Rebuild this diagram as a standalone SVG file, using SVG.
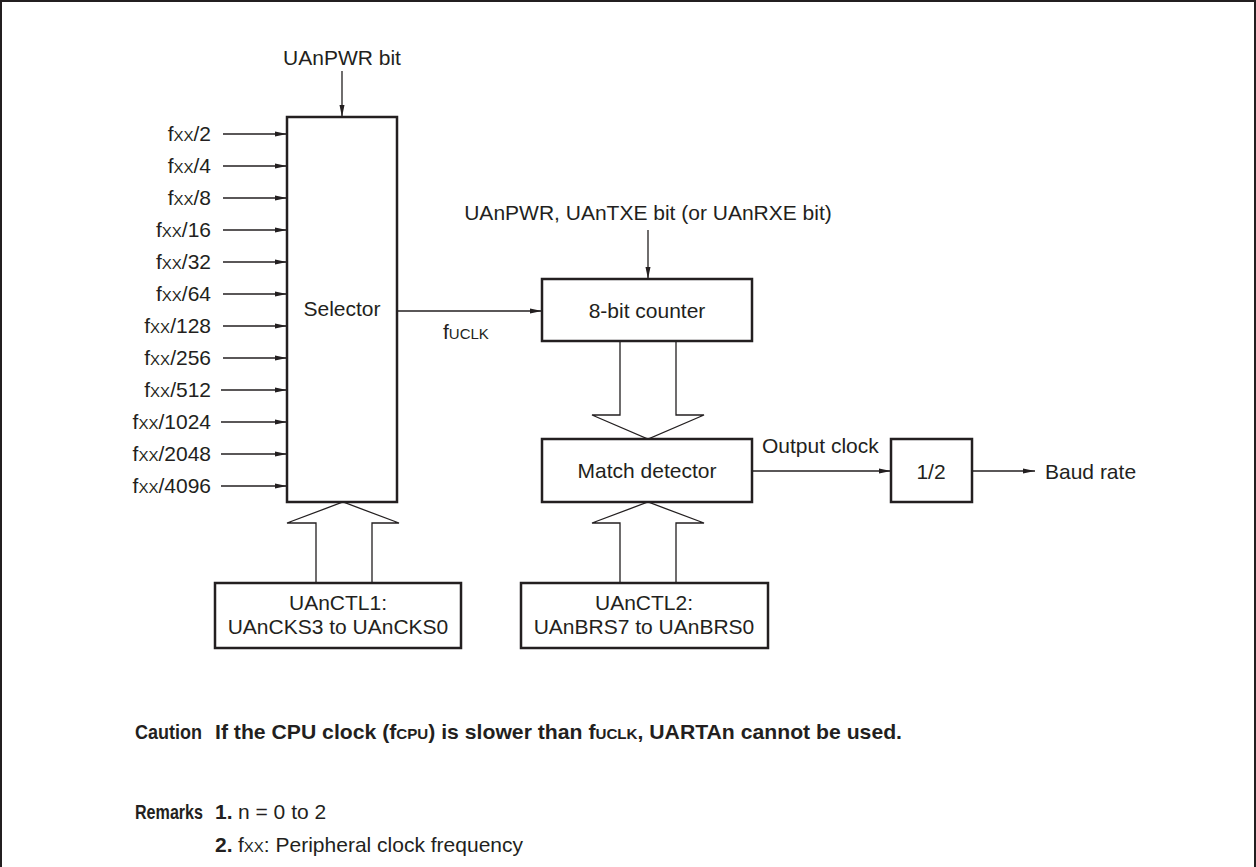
<svg xmlns="http://www.w3.org/2000/svg" width="1256" height="867" viewBox="0 0 1256 867">
<defs>
<style>
.box{fill:#fff;stroke:#231f20;stroke-width:2.5}
.ln{fill:none;stroke:#231f20;stroke-width:1.3}
.hol{fill:#fff;stroke:#231f20;stroke-width:1.3;stroke-linejoin:miter}
text{font-family:"Liberation Sans",Arial,sans-serif;font-size:21px;fill:#231f20}
.sm{font-size:15px}
.r{text-anchor:end}
.c{text-anchor:middle}
.b{font-weight:bold}
</style>
<marker id="ah" viewBox="0 0 12 6" refX="12" refY="3" markerWidth="12" markerHeight="6" markerUnits="userSpaceOnUse" orient="auto">
<path d="M0,0.5 L12,3 L0,5.5 Z" fill="#231f20"/>
</marker>
</defs>
<rect width="1256" height="867" fill="#fff"/>
<path d="M1,867 V1 H1255 V867" fill="none" stroke="#231f20" stroke-width="2"/>

<g id="connectors">
<line class="ln" x1="342" y1="71" x2="342" y2="117" marker-end="url(#ah)"/>
<line class="ln" x1="223" y1="134" x2="287" y2="134" marker-end="url(#ah)"/>
<line class="ln" x1="223" y1="166" x2="287" y2="166" marker-end="url(#ah)"/>
<line class="ln" x1="223" y1="198" x2="287" y2="198" marker-end="url(#ah)"/>
<line class="ln" x1="223" y1="230" x2="287" y2="230" marker-end="url(#ah)"/>
<line class="ln" x1="223" y1="262" x2="287" y2="262" marker-end="url(#ah)"/>
<line class="ln" x1="223" y1="294" x2="287" y2="294" marker-end="url(#ah)"/>
<line class="ln" x1="223" y1="326" x2="287" y2="326" marker-end="url(#ah)"/>
<line class="ln" x1="223" y1="358" x2="287" y2="358" marker-end="url(#ah)"/>
<line class="ln" x1="221" y1="390" x2="287" y2="390" marker-end="url(#ah)"/>
<line class="ln" x1="221" y1="422" x2="287" y2="422" marker-end="url(#ah)"/>
<line class="ln" x1="221" y1="454" x2="287" y2="454" marker-end="url(#ah)"/>
<line class="ln" x1="221" y1="486" x2="287" y2="486" marker-end="url(#ah)"/>
<line class="ln" x1="397" y1="311" x2="542" y2="311" marker-end="url(#ah)"/>
<line class="ln" x1="648" y1="230" x2="648" y2="279" marker-end="url(#ah)"/>
<line class="ln" x1="752" y1="471" x2="891" y2="471" marker-end="url(#ah)"/>
<line class="ln" x1="972" y1="471" x2="1035" y2="471" marker-end="url(#ah)"/>
<path class="hol" d="M316,583 V523 H287 L343,502 L399,523 H372 V583"/>
<path class="hol" d="M620,341 V415 H592 L648,439 L704,415 H676 V341"/>
<path class="hol" d="M620,583 V523 H592 L648,502 L704,523 H676 V583"/>
</g>

<g id="label-uanpwr">
<text x="342" y="65" class="c">UAnPWR bit</text>
</g>
<g id="inputs">
<text x="211" y="141" class="r">f<tspan class="sm">XX</tspan>/2</text>
<text x="211" y="173" class="r">f<tspan class="sm">XX</tspan>/4</text>
<text x="211" y="205" class="r">f<tspan class="sm">XX</tspan>/8</text>
<text x="211" y="237" class="r">f<tspan class="sm">XX</tspan>/16</text>
<text x="211" y="269" class="r">f<tspan class="sm">XX</tspan>/32</text>
<text x="211" y="301" class="r">f<tspan class="sm">XX</tspan>/64</text>
<text x="211" y="333" class="r">f<tspan class="sm">XX</tspan>/128</text>
<text x="211" y="365" class="r">f<tspan class="sm">XX</tspan>/256</text>
<text x="211" y="397" class="r">f<tspan class="sm">XX</tspan>/512</text>
<text x="211" y="429" class="r">f<tspan class="sm">XX</tspan>/1024</text>
<text x="211" y="461" class="r">f<tspan class="sm">XX</tspan>/2048</text>
<text x="211" y="493" class="r">f<tspan class="sm">XX</tspan>/4096</text>
</g>
<g id="selector">
<rect class="box" x="287" y="117" width="110" height="385"/>
<text x="342" y="316" class="c">Selector</text>
</g>
<g id="label-fuclk">
<text x="443" y="339">f<tspan class="sm">UCLK</tspan></text>
</g>
<g id="label-txe">
<text x="648" y="220" class="c">UAnPWR, UAnTXE bit (or UAnRXE bit)</text>
</g>
<g id="counter">
<rect class="box" x="542" y="279" width="210" height="62"/>
<text x="647" y="318" class="c">8-bit counter</text>
</g>
<g id="match">
<rect class="box" x="542" y="439" width="210" height="63"/>
<text x="647" y="478" class="c">Match detector</text>
</g>
<g id="label-output">
<text x="762" y="453">Output clock</text>
</g>
<g id="half">
<rect class="box" x="891" y="439" width="81" height="63"/>
<text x="931" y="479" class="c">1/2</text>
</g>
<g id="label-baud">
<text x="1045" y="479">Baud rate</text>
</g>
<g id="ctl1">
<rect class="box" x="215" y="583" width="246" height="65"/>
<text x="338" y="610" class="c">UAnCTL1:</text>
<text x="338" y="634" class="c">UAnCKS3 to UAnCKS0</text>
</g>
<g id="ctl2">
<rect class="box" x="521" y="583" width="247" height="65"/>
<text x="644" y="610" class="c">UAnCTL2:</text>
<text x="644" y="634" class="c">UAnBRS7 to UAnBRS0</text>
</g>
<g id="notes">
<text x="135" y="739" class="b" textLength="67" lengthAdjust="spacingAndGlyphs">Caution</text>
<text x="215" y="739" class="b" textLength="687" lengthAdjust="spacingAndGlyphs">If the CPU clock (f<tspan class="sm">CPU</tspan>) is slower than f<tspan class="sm">UCLK</tspan>, UARTAn cannot be used.</text>
<text x="135" y="819" class="b" textLength="68" lengthAdjust="spacingAndGlyphs">Remarks</text>
<text x="215" y="819" class="b">1.</text>
<text x="238" y="819">n = 0 to 2</text>
<text x="215" y="852" class="b">2.</text>
<text x="238" y="852">f<tspan class="sm">XX</tspan>: Peripheral clock frequency</text>
</g>
</svg>
